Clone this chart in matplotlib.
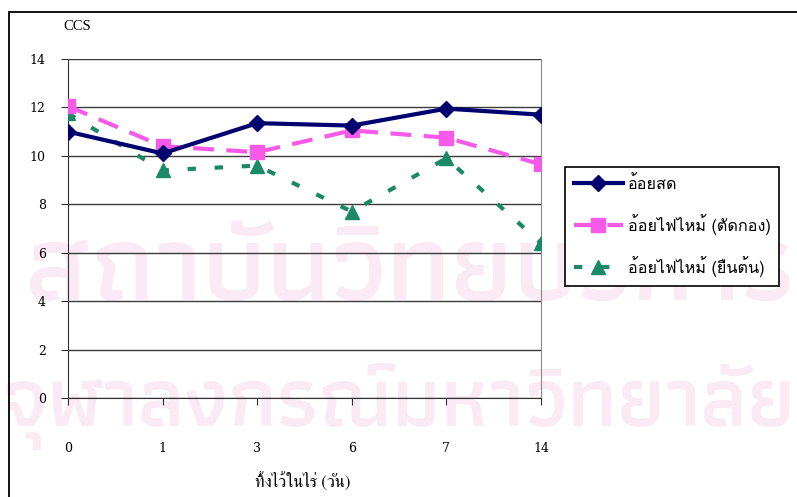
import matplotlib
matplotlib.use("Agg")
import matplotlib.pyplot as plt
from matplotlib.patches import Rectangle

# ค่า CCS ของอ้อยที่ทิ้งไว้ในไร่
days = ["0", "1", "3", "6", "7", "14"]
fresh = [11.0, 10.1, 11.35, 11.25, 11.95, 11.7]
burnt_cut = [12.05, 10.4, 10.15, 11.05, 10.75, 9.65]
burnt_stand = [11.75, 9.4, 9.6, 7.7, 9.9, 6.4]
yticks = [0, 2, 4, 6, 8, 10, 12, 14]

thai = ["Loma", "DejaVu Sans"]
serif = "DejaVu Serif"

fig = plt.figure(figsize=(7.97, 4.97), dpi=100)
W, H = 797.0, 497.0

# ลายน้ำ: ปรับขนาดตัวอักษรให้ได้ความกว้างที่ต้องการ
wm = "#f9eaf3"
wm_font = ["Athiti", "Loma", "DejaVu Sans"]
wm1 = fig.text(26 / W, 1 - 300 / H, "สถาบันวิทยบริการ", family=wm_font, fontsize=60,
               weight="semibold", color=wm, ha="left", va="baseline", zorder=-1)
wm2 = fig.text(398 / W, 1 - 425 / H, "จุฬาลงกรณ์มหาวิทยาลัย", family=wm_font, fontsize=60,
               weight="semibold", color=wm, ha="center", va="baseline", zorder=-1)
r = fig.canvas.get_renderer()
for t, target in [(wm1, 768), (wm2, 794)]:
    w = t.get_window_extent(r).width
    t.set_fontsize(60 * target / w)

# กรอบนอก
fig.patches.append(Rectangle((9 / W, -0.2), 1.2, 1 - 12 / H + 0.2, transform=fig.transFigure,
                             fill=False, ec="black", lw=1.3))

ax = fig.add_axes([68 / W, 1 - 398 / H, (541 - 68) / W, (398 - 59) / H])
ax.set_facecolor("none")
x = range(len(days))

ax.plot(x, fresh, color="#00006e", lw=3, marker="D", ms=8, label="อ้อยสด", zorder=5)
ax.plot(x, burnt_cut, color="#f75ae8", lw=3, ls=(0, (5, 3)), marker="s", ms=10,
        label="อ้อยไฟไหม้ (ตัดกอง)", zorder=4)
ax.plot(x, burnt_stand, color="#1a8a66", lw=3, ls=(0, (2, 4.5)), marker="^", ms=10,
        label="อ้อยไฟไหม้ (ยืนต้น)", zorder=3)

ax.set_xlim(0, len(days) - 1)
ax.set_ylim(0, 14)
ax.set_yticks(yticks)
ax.set_xticks(list(x))
ax.set_xticklabels(days)
ax.grid(axis="y", color="#3a3a3a", lw=1)
ax.set_axisbelow(True)
for s in ["left", "bottom"]:
    ax.spines[s].set_color("#303030")
ax.spines["top"].set_visible(False)
ax.spines["right"].set_color("#8a8a8a")
ax.tick_params(axis="y", direction="out", length=5, pad=11, labelsize=9, color="#303030")
ax.tick_params(axis="x", direction="out", length=5, pad=27, labelsize=9, color="#303030")
for lab in ax.get_xticklabels() + ax.get_yticklabels():
    lab.set_family(serif)

fig.text(77 / W, 1 - 27 / H, "CCS", family="Liberation Serif", fontsize=10.5,
         ha="center", va="center")
fig.text(303 / W, 1 - 482 / H, "ทิ้งไว้ในไร่ (วัน)", family=["FreeSerif", "DejaVu Sans"],
         fontsize=12, ha="center", va="center")

leg = ax.legend(loc="upper left", bbox_to_anchor=(565 / W, 1 - 167 / H),
                bbox_transform=fig.transFigure, frameon=True, fancybox=False,
                edgecolor="black", framealpha=1, borderpad=0.55, labelspacing=1.3,
                handlelength=3.0, handletextpad=0.3, borderaxespad=0,
                prop={"family": thai, "size": 11.7})
leg.get_frame().set_linewidth(1.2)

fig.savefig("out.png", dpi=100)
